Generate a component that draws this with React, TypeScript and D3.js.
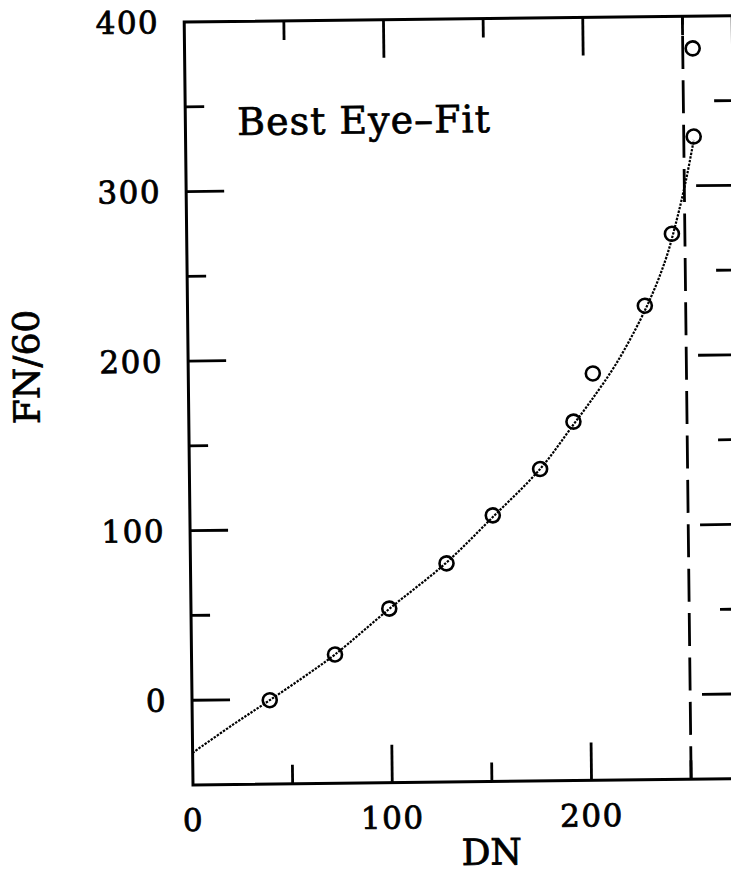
import React, { useRef, useEffect } from "react";
import * as d3 from "d3";

// measured points (DN, FN/60)
const dnObs = [39, 72, 99.5, 128.5, 152, 176, 193, 203, 229.5, 243.5, 255, 255];
const fnObs = [-0.5, 26, 52.7, 79, 107, 134, 161.7, 190, 229.6, 271.8, 329, 381];

// eye-fit curve
const fitDN = [0, 20, 39, 60, 72, 100, 128, 152, 176, 193, 202, 215, 230, 240, 246, 251, 255];
const fitFN = [-31, -15, -0.5, 16, 26, 53, 79, 106, 134, 160, 174, 196, 228, 256, 280, 304, 327];

const xMajor = [0, 100, 200];
const xMinor = [50, 150, 250];
const yMajor = [0, 100, 200, 300, 400];
const yMinor = [-50, 50, 150, 250, 350];
const saturationDN = 250;

const FONT = "DejaVu Serif";

function App() {
  const ref = useRef<SVGSVGElement>(null);

  useEffect(() => {
    const svg = d3.select(ref.current);
    svg.selectAll("*").remove();

    const x = d3.scaleLinear().domain([0, 275]).range([193, 741]);
    const y = d3.scaleLinear().domain([-50, 400]).range([785, 22]);
    const [x0, x1] = x.range();
    const [yb, yt] = y.range();

    // the scan is tilted a little
    const g = svg.append("g").attr("transform", `rotate(-0.66, ${x0}, ${yb})`);

    g.append("rect")
      .attr("x", x0)
      .attr("y", yt)
      .attr("width", x1 - x0)
      .attr("height", yb - yt)
      .style("fill", "none")
      .style("stroke", "#000")
      .style("stroke-width", 3);

    const tick = (x1_: number, y1_: number, x2_: number, y2_: number) =>
      g.append("line")
        .attr("x1", x1_).attr("y1", y1_).attr("x2", x2_).attr("y2", y2_)
        .style("stroke", "#000")
        .style("stroke-width", 2.8);

    const big = 38, small = 19;
    xMajor.filter((d) => d > 0).forEach((d) => {
      tick(x(d), yb, x(d), yb - big);
      tick(x(d), yt, x(d), yt + big);
    });
    xMinor.forEach((d) => {
      tick(x(d), yb, x(d), yb - small);
      tick(x(d), yt, x(d), yt + small);
    });
    yMajor.filter((d) => d < 400).forEach((d) => {
      tick(x0, y(d), x0 + big, y(d));
      tick(x1, y(d), x1 - big, y(d));
    });
    yMinor.filter((d) => d > -50).forEach((d) => {
      tick(x0, y(d), x0 + small, y(d));
      tick(x1, y(d), x1 - small, y(d));
    });

    const labelStyle = (sel: any, size: number) =>
      sel
        .style("font-family", FONT)
        .style("font-size", `${size}px`)
        .style("stroke", "#000")
        .style("stroke-width", 0.8);

    // tick labels
    labelStyle(
      g.selectAll(".xl")
        .data(xMajor)
        .enter()
        .append("text")
        .attr("x", (d: number) => x(d))
        .attr("y", yb + 46)
        .attr("text-anchor", "middle")
        .style("letter-spacing", "1.5px")
        .text((d: number) => d),
      31
    );

    labelStyle(
      g.selectAll(".yl")
        .data(yMajor)
        .enter()
        .append("text")
        .attr("x", x0 - 25)
        .attr("y", (d: number) => y(d) + 11)
        .attr("text-anchor", "end")
        .style("letter-spacing", "1.5px")
        .text((d: number) => d),
      31
    );

    labelStyle(
      g.append("text")
        .attr("x", 491)
        .attr("y", 868)
        .attr("text-anchor", "middle")
        .text("DN"),
      36
    );

    labelStyle(
      g.append("text")
        .attr("transform", "translate(44,365) rotate(-90)")
        .attr("text-anchor", "middle")
        .text("FN/60"),
      36
    );

    labelStyle(
      g.append("text")
        .attr("x", x(26))
        .attr("y", y(333))
        .style("letter-spacing", "1px")
        .text("Best Eye\u2013Fit"),
      38
    ).style("stroke-width", 0.7);

    // saturation line
    g.append("line")
      .attr("x1", x(saturationDN))
      .attr("x2", x(saturationDN))
      .attr("y1", yb)
      .attr("y2", yt)
      .style("stroke", "#000")
      .style("stroke-width", 2.8)
      .style("stroke-dasharray", "33,11.4");

    const fit = fitDN.map((d, i) => [d, fitFN[i]] as [number, number]);
    const line = d3
      .line<[number, number]>()
      .x((d) => x(d[0]))
      .y((d) => y(d[1]))
      .curve(d3.curveCatmullRom);

    g.append("path")
      .datum(fit)
      .attr("d", line)
      .style("fill", "none")
      .style("stroke", "#000")
      .style("stroke-width", 2.2)
      .style("stroke-dasharray", "2.4,1.3");

    g.selectAll(".pt")
      .data(dnObs.map((d, i) => [d, fnObs[i]]))
      .enter()
      .append("circle")
      .attr("cx", (d) => x(d[0]))
      .attr("cy", (d) => y(d[1]))
      .attr("r", 7)
      .style("fill", "none")
      .style("stroke", "#000")
      .style("stroke-width", 2.6);
  }, []);

  return (
    <svg
      ref={ref}
      width={731}
      height={882}
      style={{ position: "absolute", left: 0, top: 0, background: "#fff" }}
    ></svg>
  );
}

export default App;
